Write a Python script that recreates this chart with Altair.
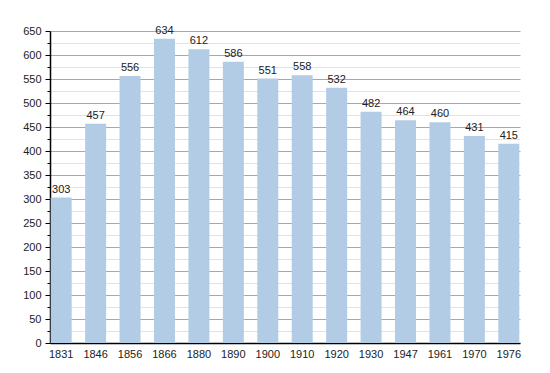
import altair as alt
import pandas as pd

years = ["1831", "1846", "1856", "1866", "1880", "1890", "1900", "1910", "1920", "1930", "1947", "1961", "1970", "1976"]
population = [303, 457, 556, 634, 612, 586, 551, 558, 532, 482, 464, 460, 431, 415]
y_ticks = list(range(0, 651, 25))

df = pd.DataFrame({"year": years, "pop": population})

FONT = "Liberation Sans"

x = alt.X("year:N", sort=None, title=None,
          scale=alt.Scale(paddingInner=0.39, paddingOuter=0.02),
          axis=alt.Axis(labelAngle=0, ticks=False, domainColor="#000000", domainWidth=1.5,
                        labelFont=FONT, labelFontSize=11, labelColor="#222222", labelPadding=5,
                        grid=False))

y = alt.Y("pop:Q", title=None,
          scale=alt.Scale(domain=[0, 650], nice=False),
          axis=alt.Axis(values=y_ticks,
                        labelOverlap=False,
                        labelExpr="datum.value % 50 == 0 ? datum.label : ''",
                        labelFont=FONT, labelFontSize=11, labelColor="#222222", labelPadding=4,
                        domainColor="#000000", domainWidth=1.5,
                        tickColor="#000000",
                        tickSize=alt.ExprRef("datum.value % 50 == 0 ? 5 : 3"),
                        gridColor=alt.ExprRef("datum.value % 50 == 0 ? '#a8a8a8' : '#e2e2e2'"),
                        gridWidth=1))

base = alt.Chart(df).encode(x=x, y=y)
bars = base.mark_bar(color="#b3cce6")
text = base.mark_text(dy=-8, font=FONT, fontSize=11, color="#222222").encode(text="pop:Q")

chart = (bars + text).properties(
    width=470, height=312,
    autosize=alt.AutoSizeParams(type="none"),
    padding={"left": 42, "top": 23, "right": 22, "bottom": 30},
).configure_view(stroke=None)

chart.save("out.html", embed_options={"renderer": "svg", "actions": False})
